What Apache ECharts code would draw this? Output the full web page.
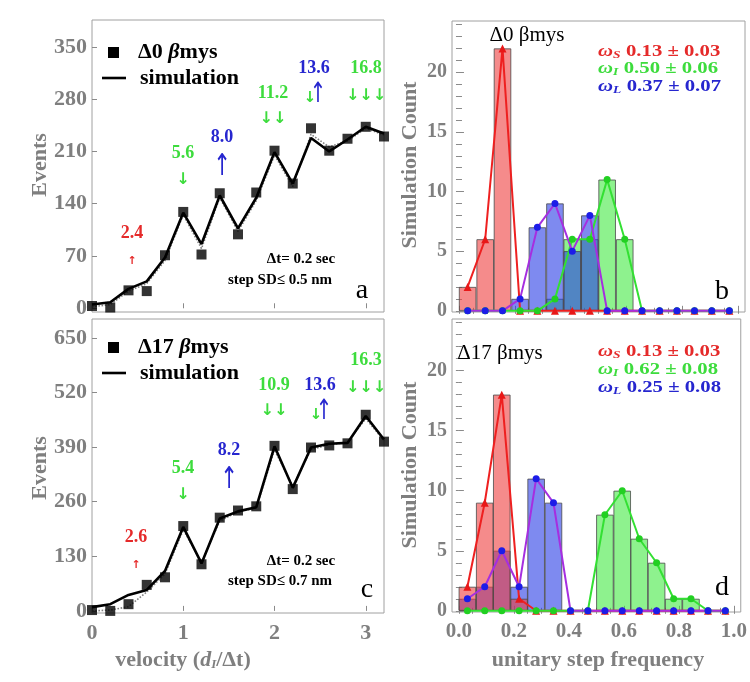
<!DOCTYPE html>
<html>
<head>
<meta charset="utf-8">
<script src="https://cdn.jsdelivr.net/npm/echarts@6/dist/echarts.min.js"></script>
<style>
  html, body { margin: 0; background: #fff; }
  #chart { width: 750px; height: 682px; }
</style>
</head>
<body>
<div id="chart"></div>
<script>
// velocity bins (d_I / dt)
const velocity = [0, 0.2, 0.4, 0.6, 0.8, 1.0, 1.2, 1.4, 1.6, 1.8, 2.0, 2.2, 2.4, 2.6, 2.8, 3.0, 3.2]
// panel a: delta0
const eventsA = [3, 1, 24, 23, 71, 129, 72, 154, 99, 155, 211, 167, 241, 211, 227, 243, 230]
const simA = [5, 8, 26, 36, 68, 128, 86, 151, 107, 148, 209, 167, 228, 210, 226, 243, 234]
const simAdot = [2, 5, 23, 33, 64, 125, 80, 148, 103, 144, 205, 163, 233, 216, 224, 241, 232]
// panel c: delta17
const eventsC = [2, 0, 16, 62, 80, 202, 111, 222, 239, 249, 393, 290, 389, 394, 399, 467, 403]
const simC = [9, 16, 38, 50, 95, 200, 113, 220, 237, 247, 392, 293, 389, 398, 400, 464, 408]
const simCdot = [0, 2, 10, 45, 88, 193, 116, 214, 236, 245, 383, 297, 384, 396, 401, 458, 405]

// histogram bins of unitary step frequency
const binCenters = [0.031, 0.094, 0.156, 0.219, 0.281, 0.344, 0.406, 0.469,
  0.531, 0.594, 0.656, 0.719, 0.781, 0.844, 0.906, 0.969]
const redB = [2, 6, 22, 0, 0, 0, 0, 0, 0, 0, 0, 0, 0, 0, 0, 0]
const greenB = [0, 0, 0, 0, 0, 1, 6, 6, 11, 6, 0, 0, 0, 0, 0, 0]
const blueB = [0, 0, 0, 1, 7, 9, 5, 8, 0, 0, 0, 0, 0, 0, 0, 0]
const redD = [2, 9, 18, 1, 0, 0, 0, 0, 0, 0, 0, 0, 0, 0, 0, 0]
const greenD = [0, 0, 0, 0, 0, 0, 0, 0, 8, 10, 6, 4, 1, 1, 0, 0]
const blueD = [1, 2, 5, 2, 11, 9, 0, 0, 0, 0, 0, 0, 0, 0, 0, 0]

// tick labels
const eventsTicksA = [0, 70, 140, 210, 280, 350]
const eventsTicksC = [0, 130, 260, 390, 520, 650]
const velocityTicks = [0, 1, 2, 3]
const countTicks = [0, 5, 10, 15, 20]
const freqTicks = [0, 0.2, 0.4, 0.6, 0.8, 1.0]

const serif = 'Liberation Serif'
const gray = '#7f7f7f'
const RED = '#e52a2a', GREEN = '#3ddc3d', BLUE = '#2626cf'

const grids = [
  { left: 92, top: 20, width: 292, height: 292 },
  { left: 452, top: 21, width: 293, height: 291 },
  { left: 92, top: 319, width: 292, height: 294 },
  { left: 452, top: 319, width: 293, height: 293 }
].map(g => Object.assign(g, { show: true, borderColor: '#a0a0a0', borderWidth: 1, containLabel: false }))

const xAxes = []
const yAxes = []
function addAxis(list, g, pos, min, max, ticks, len, labels, size, fmt) {
  list.push({
    type: 'value', gridIndex: g, position: pos, min: min, max: max,
    axisLine: { show: false }, splitLine: { show: false },
    axisTick: { show: true, inside: true, length: len, customValues: ticks, lineStyle: { color: '#8a8a8a' } },
    axisLabel: labels ? {
      show: true, customValues: labels, formatter: fmt, margin: pos === 'left' ? 5 : 9,
      color: gray, fontFamily: serif, fontWeight: 'bold', fontSize: size
    } : { show: false }
  })
  return list.length - 1
}
function range(a, b, s) {
  const out = []
  for (let v = a; v <= b + 1e-9; v += s) out.push(+v.toFixed(4))
  return out
}

// panel a / c axes
const xa = addAxis(xAxes, 0, 'bottom', 0, 3.2, velocityTicks, 5, null)
const ya = addAxis(yAxes, 0, 'left', -5, 386, eventsTicksA, 5, eventsTicksA, 22)
const xc = addAxis(xAxes, 2, 'bottom', 0, 3.2, velocityTicks, 5, velocityTicks, 22)
const yc = addAxis(yAxes, 2, 'left', -5, 695, eventsTicksC, 5, eventsTicksC, 22)
// panel b / d axes, with minor ticks on the whole frame
const fmt1 = v => v.toFixed(1)
const xb = addAxis(xAxes, 1, 'bottom', -0.025, 1.025, freqTicks, 5, null)
const yb = addAxis(yAxes, 1, 'left', -0.1, 24.3, countTicks, 5, countTicks, 20)
const xd = addAxis(xAxes, 3, 'bottom', -0.025, 1.025, freqTicks, 5, freqTicks, 21, fmt1)
const yd = addAxis(yAxes, 3, 'left', -0.1, 24.3, countTicks, 5, countTicks, 20)
;[1, 3].forEach(g => {
  addAxis(xAxes, g, 'bottom', -0.025, 1.025, range(0, 1, 0.05), 3, null)
  addAxis(xAxes, g, 'top', -0.025, 1.025, range(0, 1, 0.05), 3, null)
  addAxis(yAxes, g, 'left', -0.1, 24.3, range(0, 24, 1), 3, null)
  addAxis(yAxes, g, 'right', -0.1, 24.3, range(0, 24, 1), 3, null)
})

function pairs(xs, ys, skipZero) {
  return xs.map((x, i) => [x, skipZero && ys[i] === 0 ? '-' : ys[i]])
}

function eventSeries(xi, yi, evt, sim, dot) {
  return [
    { type: 'line', xAxisIndex: xi, yAxisIndex: yi, data: pairs(velocity, dot), showSymbol: false,
      lineStyle: { color: '#808080', width: 1.6, type: 'dotted' }, z: 2, silent: true },
    { type: 'line', xAxisIndex: xi, yAxisIndex: yi, data: pairs(velocity, sim), showSymbol: false,
      lineStyle: { color: '#000', width: 2.6 }, z: 3, silent: true },
    { type: 'scatter', xAxisIndex: xi, yAxisIndex: yi, data: pairs(velocity, evt), symbol: 'rect',
      symbolSize: 10, itemStyle: { color: '#000' }, z: 4, silent: true }
  ]
}

const barW = 293 / 1.05 / 16
function histSeries(xi, yi, red, green, blue) {
  const bar = (vals, fill) => ({
    type: 'bar', xAxisIndex: xi, yAxisIndex: yi, data: pairs(binCenters, vals, true),
    barWidth: barW, barGap: '-100%', z: 1, silent: true,
    itemStyle: { color: fill, borderColor: '#4a4a4a', borderWidth: 0.8 }
  })
  const line = (vals, lc, mc, sym, size) => ({
    type: 'line', xAxisIndex: xi, yAxisIndex: yi, data: pairs(binCenters, vals),
    symbol: sym, symbolSize: size, showAllSymbol: true, z: 3, silent: true,
    lineStyle: { color: lc, width: 2 }, itemStyle: { color: mc }
  })
  return [
    bar(green, 'rgba(60,232,60,0.58)'),
    bar(blue, 'rgba(40,60,230,0.6)'),
    bar(red, 'rgba(238,62,62,0.6)'),
    line(red, '#ee2020', '#e81818', 'triangle', 8),
    line(green, '#33e033', '#22d022', 'circle', 7),
    line(blue, '#a62ee0', '#1c1ce8', 'circle', 7)
  ]
}

// text helpers
function txt(x, y, text, o) {
  o = o || {}
  return {
    type: 'text', x: x, y: y, z: 100, scaleX: o.sx || 1, rotation: o.rot || 0, silent: true,
    style: {
      x: 0, y: 0, text: text, fill: o.color || '#000', fontFamily: o.family || serif,
      fontSize: o.size || 18, fontWeight: o.weight || 'bold', fontStyle: o.style || 'normal',
      align: o.align || 'center', verticalAlign: 'middle', rich: o.rich
    }
  }
}
const arrowFont = 'DejaVu Sans'
function peakLabels(items) {
  const out = []
  items.forEach(it => {
    out.push(txt(it.x, it.y, it.label, { color: it.color, size: 18 }))
    if (it.arrow === 'smallUp') out.push(txt(it.x, it.y + 28, '↑', { color: it.color, size: 11, family: arrowFont }))
    if (it.arrow === 'down') out.push(txt(it.x, it.y + 27, '↓', { color: it.color, size: 16, family: arrowFont }))
    if (it.arrow === 'down2') out.push(txt(it.x, it.y + 26, '↓↓', { color: it.color, size: 16, family: arrowFont }))
    if (it.arrow === 'down3') out.push(txt(it.x, it.y + 28, '↓↓↓', { color: it.color, size: 16, family: arrowFont }))
    if (it.arrow === 'tallUp') out.push(txt(it.x, it.y + 30, '↑', { color: it.color, size: 30, weight: 'normal', family: arrowFont, sx: 0.7 }))
    if (it.arrow === 'mixed') {
      out.push(txt(it.x - 4, it.y + 30, '↓', { color: GREEN, size: 15, family: arrowFont }))
      out.push(txt(it.x + 4, it.y + 27, '↑', { color: BLUE, size: 28, weight: 'normal', family: arrowFont, sx: 0.7 }))
    }
  })
  return out
}
const legendRich = {
  b: { fontFamily: serif, fontWeight: 'bold', fontSize: 22, fill: '#000' },
  i: { fontFamily: serif, fontWeight: 'bold', fontStyle: 'italic', fontSize: 22, fill: '#000' }
}
function eventLegend(y, name) {
  return [
    { type: 'rect', z: 100, silent: true, shape: { x: 108, y: y - 5, width: 11, height: 11 }, style: { fill: '#000' } },
    txt(138, y, '{b|' + name + ' }{i|β}{b|mys}', { align: 'left', rich: legendRich }),
    { type: 'line', z: 100, silent: true, shape: { x1: 102, y1: y + 26, x2: 126, y2: y + 26 }, style: { stroke: '#000', lineWidth: 2.6 } },
    txt(140, y + 26, 'simulation', { align: 'left', size: 22 })
  ]
}
function omegaLegend(x, y, sub, text, color) {
  return txt(x, y, '{w|ω}{s|' + sub + '} {v|' + text + '}', {
    align: 'left', sx: 1.22,
    rich: {
      w: { fontFamily: serif, fontStyle: 'italic', fontWeight: 'bold', fontSize: 17, fill: color },
      s: { fontFamily: serif, fontStyle: 'italic', fontWeight: 'bold', fontSize: 11, fill: color, padding: [7, 0, 0, 0] },
      v: { fontFamily: serif, fontWeight: 'bold', fontSize: 17, fill: color }
    }
  })
}
const axisTitle = { color: gray, size: 22 }
const velRich = {
  a: { fontFamily: serif, fontWeight: 'bold', fontSize: 22, fill: gray },
  i: { fontFamily: serif, fontWeight: 'bold', fontStyle: 'italic', fontSize: 22, fill: gray },
  s: { fontFamily: serif, fontWeight: 'bold', fontStyle: 'italic', fontSize: 13, fill: gray, padding: [9, 0, 0, 0] }
}

const graphic = [].concat(
  eventLegend(52, 'Δ0'),
  eventLegend(347, 'Δ17'),
  peakLabels([
    { x: 132, y: 233, label: '2.4', color: RED, arrow: 'smallUp' },
    { x: 183, y: 153, label: '5.6', color: GREEN, arrow: 'down' },
    { x: 222, y: 137, label: '8.0', color: BLUE, arrow: 'tallUp' },
    { x: 273, y: 93, label: '11.2', color: GREEN, arrow: 'down2' },
    { x: 314, y: 68, label: '13.6', color: BLUE, arrow: 'mixed' },
    { x: 366, y: 68, label: '16.8', color: GREEN, arrow: 'down3' },
    { x: 136, y: 537, label: '2.6', color: RED, arrow: 'smallUp' },
    { x: 183, y: 468, label: '5.4', color: GREEN, arrow: 'down' },
    { x: 229, y: 450, label: '8.2', color: BLUE, arrow: 'tallUp' },
    { x: 274, y: 385, label: '10.9', color: GREEN, arrow: 'down2' },
    { x: 320, y: 385, label: '13.6', color: BLUE, arrow: 'mixed' },
    { x: 366, y: 360, label: '16.3', color: GREEN, arrow: 'down3' }
  ]),
  [
    txt(301, 259, 'Δt= 0.2 sec', { size: 15 }),
    txt(280, 280, 'step SD≤ 0.5 nm', { size: 15 }),
    txt(362, 291, 'a', { size: 28, weight: 'normal' }),
    txt(301, 561, 'Δt= 0.2 sec', { size: 15 }),
    txt(280, 581, 'step SD≤ 0.7 nm', { size: 15 }),
    txt(367, 590, 'c', { size: 28, weight: 'normal' }),
    txt(527, 35, 'Δ0 βmys', { size: 21, weight: 'normal' }),
    txt(722, 292, 'b', { size: 28, weight: 'normal' }),
    txt(500, 353, 'Δ17 βmys', { size: 21, weight: 'normal' }),
    txt(722, 588, 'd', { size: 28, weight: 'normal' }),
    omegaLegend(598, 52, 'S', '0.13 ± 0.03', RED),
    omegaLegend(598, 69, 'I', '0.50 ± 0.06', GREEN),
    omegaLegend(598, 87, 'L', '0.37 ± 0.07', BLUE),
    omegaLegend(598, 352, 'S', '0.13 ± 0.03', RED),
    omegaLegend(598, 370, 'I', '0.62 ± 0.08', GREEN),
    omegaLegend(598, 388, 'L', '0.25 ± 0.08', BLUE),
    txt(40, 165, 'Events', Object.assign({ rot: Math.PI / 2 }, axisTitle)),
    txt(40, 468, 'Events', Object.assign({ rot: Math.PI / 2 }, axisTitle)),
    txt(410, 165, 'Simulation Count', Object.assign({ rot: Math.PI / 2 }, axisTitle)),
    txt(410, 465, 'Simulation Count', Object.assign({ rot: Math.PI / 2 }, axisTitle)),
    txt(183, 660, '{a|velocity (}{i|d}{s|I}{a|/Δt)}', { rich: velRich }),
    txt(598, 660, 'unitary step frequency', axisTitle)
  ]
)

const chart = echarts.init(document.getElementById('chart'))
chart.setOption({
  backgroundColor: '#fff',
  animation: false,
  grid: grids,
  xAxis: xAxes,
  yAxis: yAxes,
  series: [].concat(
    eventSeries(xa, ya, eventsA, simA, simAdot),
    eventSeries(xc, yc, eventsC, simC, simCdot),
    histSeries(xb, yb, redB, greenB, blueB),
    histSeries(xd, yd, redD, greenD, blueD)
  ),
  graphic: graphic
})
</script>
</body>
</html>
